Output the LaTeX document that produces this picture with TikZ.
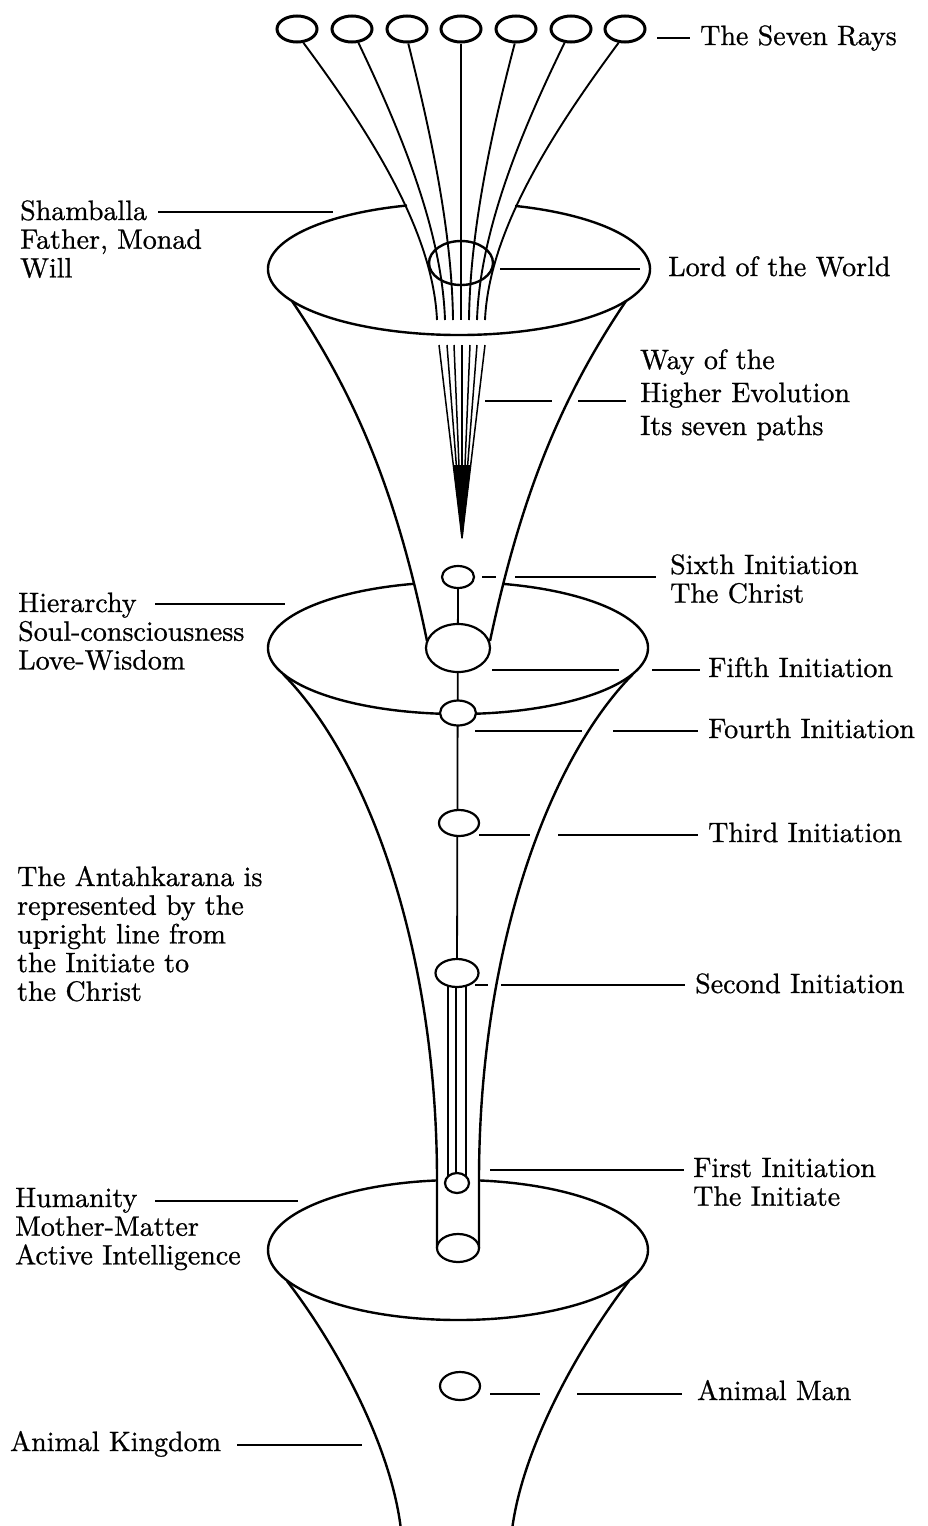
\documentclass[tikz,border=0pt]{standalone}
\usepackage{fontspec}
\setmainfont{lmroman10-regular.otf}[FakeBold=0.8]
\usetikzlibrary{shapes.geometric}
\newcommand{\mylbl}[1]{\begin{tabular}[t]{@{}l@{}}#1\end{tabular}}
\begin{document}
\begin{tikzpicture}[x=1pt,y=-1pt,
  outline/.style={line width=2.4pt},
  ray/.style={line width=1.9pt},
  thinray/.style={line width=1.5pt},
  chain/.style={line width=1.8pt},
  leader/.style={line width=1.4pt},
  oval/.style={ellipse,draw,line width=2.2pt,fill=white,inner sep=0pt},
  rayoval/.style={ellipse,draw,line width=3pt,inner sep=0pt,minimum width=40pt,minimum height=26pt},
  lbl/.style={anchor=base west,inner sep=0pt,font=\fontsize{28}{28.7}\selectfont},
]
\useasboundingbox (0,0) rectangle (927,1526);

% ---- the seven rays ----
\foreach \i/\x in {1/297,2/352,3/407,4/461,5/516,6/571,7/625}
  \node[rayoval] (r\i) at (\x,29) {};
\coordinate (e1) at (437,320);
\coordinate (e2) at (445,320);
\coordinate (e3) at (453,320);
\coordinate (e4) at (461,320);
\coordinate (e5) at (469,320);
\coordinate (e6) at (477,320);
\coordinate (e7) at (485,320);
\draw[ray] (r1.-65) .. controls (368,130) and (433,230) .. (e1);
\draw[ray] (r2.-65) .. controls (400,130) and (442,230) .. (e2);
\draw[ray] (r3.-85) .. controls (430,130) and (452,230) .. (e3);
\draw[ray] (r4.south) -- (e4);
\draw[ray] (r5.-95) .. controls (492,130) and (470,230) .. (e5);
\draw[ray] (r6.-115) .. controls (522,130) and (480,230) .. (e6);
\draw[ray] (r7.-115) .. controls (554,130) and (489,230) .. (e7);

% ---- Shamballa ----
\draw[outline] (459,269) ++(287.1:191 and 66)
  arc[start angle=287.1,end angle=614.2,x radius=191,y radius=66];
\node[ellipse,draw,outline,inner sep=0pt,minimum width=64pt,minimum height=44pt] (lord) at (461,263) {};
\draw[outline] (292,301) .. controls (359,400) and (398,500) .. (427,641);
\draw[outline] (626,301) .. controls (559,400) and (520,500) .. (490,641);

% seven paths converging
\coordinate (tip) at (462,538);
\foreach \x in {439,447,454,462,470,477,485}
  \draw[thinray] (\x,345) -- (tip);
\fill (453,465) -- (471,465) -- (tip) -- cycle;

% ---- Hierarchy ----
\draw[outline] (458,648) ++(283.7:190 and 66)
  arc[start angle=283.7,end angle=616.9,x radius=190,y radius=66];
\draw[outline] (283,674) .. controls (368,760) and (437,950) .. (437,1180) -- (437,1248);
\draw[outline] (633,674) .. controls (548,760) and (479,950) .. (479,1180) -- (479,1248);

% ---- Humanity ----
\draw[outline] (458,1250) ++(276.35:190 and 70)
  arc[start angle=276.35,end angle=623.65,x radius=190,y radius=70];
\draw[outline] (287,1281) .. controls (340,1350) and (392,1450) .. (401,1530);
\draw[outline] (629,1281) .. controls (576,1350) and (522,1450) .. (512,1530);

% ---- the upright line ----
\coordinate (c6) at (458,577);
\coordinate (c5) at (458,648);
\coordinate (c4) at (458,713);
\coordinate (c3) at (459,823);
\coordinate (c2) at (457,973);
\coordinate (c1) at (457,1183);
\coordinate (c0) at (458,1248);
\coordinate (cam) at (460,1386);
\draw[chain] (c6) -- (c2);
\draw[line width=1.3pt] (448,973) -- (448,1183);
\draw[line width=2.2pt] (456,973) -- (456,1183);
\draw[line width=1.3pt] (466,973) -- (466,1183);

\node[oval,minimum width=32pt,minimum height=22pt] (sixth) at (c6) {};
\node[oval,minimum width=64pt,minimum height=48pt] (fifth) at (c5) {};
\node[oval,minimum width=36pt,minimum height=25pt] (fourth) at (c4) {};
\node[oval,minimum width=40pt,minimum height=26pt] (third) at (c3) {};
\node[oval,minimum width=43pt,minimum height=28pt] (second) at (c2) {};
\node[oval,minimum width=24pt,minimum height=20pt] (first) at (c1) {};
\node[oval,minimum width=42pt,minimum height=28pt] (tubeend) at (c0) {};
\node[oval,minimum width=40pt,minimum height=28pt] (animalman) at (cam) {};

% ---- labels ----
\node[lbl] (t7) at (700,45) {The Seven Rays};
\node[lbl] (tsh) at (20,220) {\mylbl{Shamballa\\Father, Monad\\Will}};
\node[lbl] (tlw) at (668,276) {Lord of the World};
\node[lbl,font=\fontsize{28}{33}\selectfont] (tway) at (640,369) {\mylbl{Way of the\\Higher Evolution\\Its seven paths}};
\node[lbl] (t6) at (670,574) {\mylbl{Sixth Initiation\\The Christ}};
\node[lbl] (thi) at (18,612) {\mylbl{Hierarchy\\Soul-consciousness\\Love-Wisdom}};
\node[lbl] (t5) at (708,677) {Fifth Initiation};
\node[lbl] (t4) at (708,738) {Fourth Initiation};
\node[lbl] (t3) at (708,842) {Third Initiation};
\node[lbl] (tan) at (17,886) {\mylbl{The Antahkarana is\\represented by the\\upright line from\\the Initiate to\\the Christ}};
\node[lbl] (t2) at (695,993) {Second Initiation};
\node[lbl] (t1) at (693,1177) {\mylbl{First Initiation\\The Initiate}};
\node[lbl] (thu) at (15,1207) {\mylbl{Humanity\\Mother-Matter\\Active Intelligence}};
\node[lbl] (tam) at (697,1400) {Animal Man};
\node[lbl] (tak) at (10,1451) {Animal Kingdom};

% ---- leader lines ----
\foreach \n/\xa/\xb/\y in {
  lr/657/690/38, lsh/158/333/212, llw/500/640/269,
  lwa/485/552/401, lwb/578/626/401,
  lsa/482/496/577, lsb/515/656/577,
  lhi/155/285/604,
  lfa/492/619/670, lfb/652/700/670,
  lga/475/582/731, lgb/613/698/731,
  lta/479/530/835, ltb/558/698/835,
  lsca/475/488/985, lscb/501/685/985,
  lfi/490/684/1170, lhu/155/298/1201,
  lama/490/540/1394, lamb/577/682/1394,
  lak/237/362/1445}
{
  \coordinate (\n-a) at (\xa,\y);
  \coordinate (\n-b) at (\xb,\y);
  \draw[leader] (\n-a) -- (\n-b);
}
\end{tikzpicture}
\end{document}
